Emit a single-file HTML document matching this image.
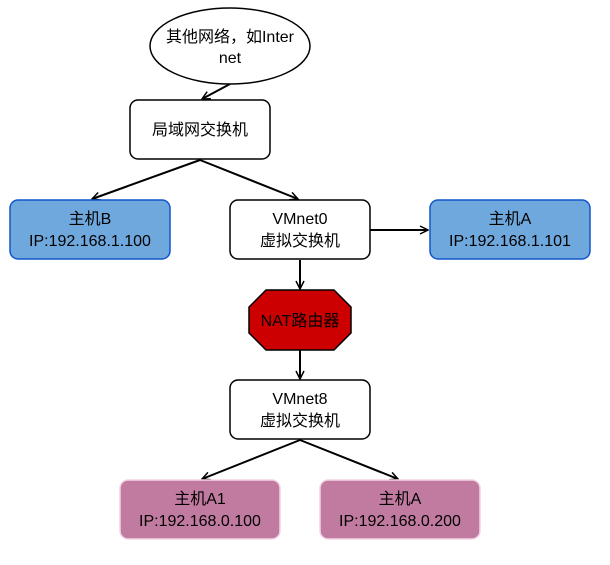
<!DOCTYPE html>
<html><head><meta charset="utf-8"><style>html,body{margin:0;padding:0;background:#fff}svg text{font-family:"Liberation Sans","Noto Sans CJK SC",sans-serif;font-size:16px;fill:#000;text-anchor:middle}</style></head>
<body>
<svg width="610" height="560" xmlns="http://www.w3.org/2000/svg">
<defs><marker id="a" markerWidth="10" markerHeight="10" refX="9" refY="5" orient="auto" markerUnits="userSpaceOnUse"><path d="M1,1 L9,5 L1,9" fill="none" stroke="#000" stroke-width="1.5"/></marker></defs>
<g stroke="#000" stroke-width="2" fill="none" marker-end="url(#a)">
<line x1="230" y1="84" x2="202" y2="99"/>
<line x1="200" y1="160" x2="92" y2="199"/>
<line x1="200" y1="160" x2="298" y2="199"/>
<line x1="370" y1="230" x2="428" y2="230"/>
<line x1="300" y1="260" x2="300" y2="289"/>
<line x1="300" y1="350" x2="300" y2="379"/>
<line x1="300" y1="440" x2="202" y2="479"/>
<line x1="300" y1="440" x2="398" y2="479"/>
</g>
<ellipse cx="230" cy="46" rx="80" ry="38" fill="#fff" stroke="#000" stroke-width="1.5"/>
<text x="230" y="42">其他网络，如Inter</text><text x="230" y="63">net</text>
<rect x="130" y="100" width="140" height="59" rx="8" fill="#fff" stroke="#000" stroke-width="1.5"/>
<text x="200" y="135">局域网交换机</text>
<rect x="10" y="200" width="160" height="59" rx="8" fill="#6fa8dc" stroke="#1155cc" stroke-width="1.5"/>
<text x="90" y="224">主机B</text><text x="90" y="246">IP:192.168.1.100</text>
<rect x="230" y="200" width="140" height="59" rx="8" fill="#fff" stroke="#000" stroke-width="1.5"/>
<text x="300" y="224">VMnet0</text><text x="300" y="246">虚拟交换机</text>
<rect x="430" y="200" width="160" height="59" rx="8" fill="#6fa8dc" stroke="#1155cc" stroke-width="1.5"/>
<text x="510" y="224">主机A</text><text x="510" y="246">IP:192.168.1.101</text>
<polygon points="266,290 334,290 351,307 351,333 334,350 266,350 249,333 249,307" fill="#cc0000" stroke="#000" stroke-width="1.5"/>
<text x="300" y="326">NAT路由器</text>
<rect x="230" y="380" width="140" height="59" rx="8" fill="#fff" stroke="#000" stroke-width="1.5"/>
<text x="300" y="404">VMnet8</text><text x="300" y="426">虚拟交换机</text>
<rect x="120" y="480" width="160" height="59" rx="8" fill="#c27ba0" stroke="#f4d4e6" stroke-width="1.5"/>
<text x="200" y="504">主机A1</text><text x="200" y="526">IP:192.168.0.100</text>
<rect x="320" y="480" width="160" height="59" rx="8" fill="#c27ba0" stroke="#f4d4e6" stroke-width="1.5"/>
<text x="400" y="504">主机A</text><text x="400" y="526">IP:192.168.0.200</text>
</svg>
</body></html>
